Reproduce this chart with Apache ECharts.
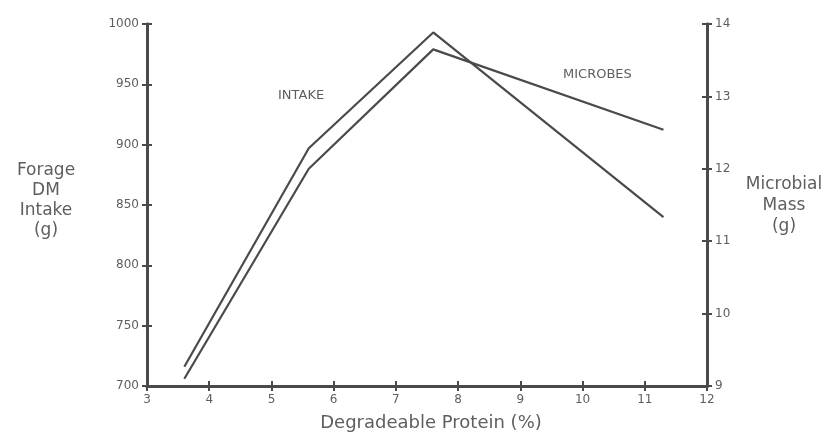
<!DOCTYPE html>
<html>
<head>
<meta charset="utf-8">
<script src="https://cdn.jsdelivr.net/npm/echarts@6/dist/echarts.min.js"></script>
<style>
  html, body { margin: 0; padding: 0; background: #fff; }
  #chart { width: 830px; height: 435px; }
</style>
</head>
<body>
<div id="chart"></div>
<script>
const protein = [3.6, 5.6, 7.6, 11.3];
const intake = [716, 897, 993, 840];
const microbes = [9.1, 12.0, 13.65, 12.54];

const ink = "#4a4a4a";
const textInk = "#5e5e5e";
const font = "DejaVu Sans";

function pairs(xs, ys) {
    return xs.map((x, i) => [x, ys[i]]);
}

// one axis draws labels and outward ticks, its twin draws inward ticks,
// so the ticks cross the axis line like in the scan
function crossAxis(base, inside) {
    return Object.assign({}, base, {
        axisTick: { show: true, inside: inside, length: 5, lineStyle: { color: ink, width: 2 } },
        axisLabel: {
            show: !inside, color: textInk, fontFamily: font, fontSize: 12,
            formatter: (v) => String(v)
        },
        axisLine: { show: true, onZero: false, lineStyle: { color: ink, width: 3 } },
        splitLine: { show: false }
    });
}

function title(text, x, y, size, lineHeight) {
    return {
        type: "text", x: x, y: y,
        style: { text: text, font: size + "px " + font, fill: textInk, align: "center", verticalAlign: "top", lineHeight: lineHeight }
    };
}

const xBase = { type: "value", min: 3, max: 12, interval: 1, position: "bottom" };
const yLeft = { type: "value", min: 700, max: 1000, interval: 50, position: "left" };
const yRight = { type: "value", min: 9, max: 14, interval: 1, position: "right" };

const chart = echarts.init(document.getElementById("chart"));
chart.setOption({
    animation: false,
    backgroundColor: "#fff",
    grid: { left: 147, right: 123, top: 24, bottom: 49 },
    xAxis: [crossAxis(xBase, false), crossAxis(xBase, true)],
    yAxis: [
        crossAxis(yLeft, false),
        crossAxis(yRight, false),
        crossAxis(yLeft, true),
        crossAxis(yRight, true)
    ],
    series: [
        {
            name: "INTAKE",
            type: "line",
            yAxisIndex: 0,
            data: pairs(protein, intake),
            symbol: "none",
            lineStyle: { color: ink, width: 2.2 }
        },
        {
            name: "MICROBES",
            type: "line",
            yAxisIndex: 1,
            data: pairs(protein, microbes),
            symbol: "none",
            lineStyle: { color: ink, width: 2.2 }
        }
    ],
    graphic: [
        { type: "text", left: 278, top: 89, style: { text: "INTAKE", font: "13px " + font, fill: textInk } },
        { type: "text", left: 563, top: 68, style: { text: "MICROBES", font: "13px " + font, fill: textInk } },
        title("Forage\nDM\nIntake\n(g)", 46, 161, 17, 20),
        title("Microbial\nMass\n(g)", 784, 174, 17, 21),
        title("Degradeable Protein (%)", 431, 413, 18, 20)
    ]
});
</script>
</body>
</html>
